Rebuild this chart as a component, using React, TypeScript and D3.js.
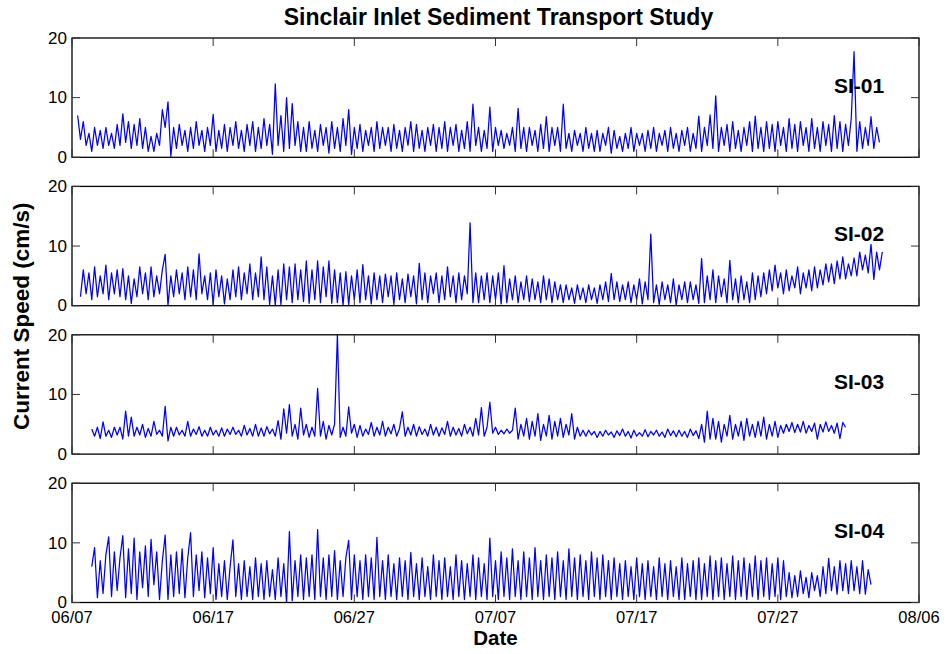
import React from "react";
import * as d3 from "d3";

const TITLE = "Sinclair Inlet Sediment Transport Study";
const X_LABEL = "Date";
const Y_LABEL = "Current Speed (cm/s)";
const STATIONS = ["SI-01", "SI-02", "SI-03", "SI-04"];
const X_TICK_LABELS = ["06/07", "06/17", "06/27", "07/07", "07/17", "07/27", "08/06"];
const Y_TICKS = [0, 10, 20];
const YEAR = "2007";
// first sample of each record, in days after 06/07 00:00, and the sampling step in days
const SERIES_START_DAYS = [0.4, 0.6, 1.4, 1.4];
const SAMPLE_STEP_DAYS = 0.2;

// current speed, cm/s
const SI01 = [
  7, 3, 6, 2, 4,
  1, 5, 2, 4.5, 1.5,
  5, 2, 4, 1.5, 5.5,
  2, 7.3, 2.5, 6, 1.5,
  5.5, 2, 6.5, 1.5, 5,
  1, 3.5, 1, 4, 2,
  8, 5, 9.3, 0.2, 5,
  1.5, 5.5, 2, 4.5, 1,
  5, 1.5, 6, 2, 4.5,
  1, 5, 2, 7.2, 1,
  4.5, 1.5, 5.5, 1, 5,
  2, 6, 1.5, 4.5, 1,
  5.5, 2, 6, 1, 5,
  1.5, 6.5, 2, 5.5, 0.5,
  12.3, 2, 7, 1, 10,
  1.5, 9, 2, 6, 1,
  5, 1, 6, 1.5, 4.5,
  1, 5.5, 2, 5, 0.7,
  6, 1.5, 5, 1, 6.5,
  2, 8, 0.5, 5, 1.5,
  5.5, 1, 4.5, 2, 5,
  1, 6, 1.5, 5, 2,
  5, 1, 5.5, 1.5, 4.5,
  1, 5, 2, 6, 1,
  5.5, 1.5, 4.5, 1, 5,
  2, 5.5, 1, 5, 1.5,
  6, 1, 5, 2, 5.5,
  1, 4.5, 1.5, 6, 1,
  8.9, 2, 5, 1, 4.5,
  1.5, 8.4, 1, 5, 2,
  4.5, 1.5, 4, 2, 5,
  1, 8.2, 1.5, 5, 1,
  5, 2, 4.5, 1, 5.5,
  1.5, 6.8, 1, 5, 2,
  5, 1, 8.9, 1.5, 4,
  1, 4.5, 2, 4, 1,
  5, 1.5, 4, 1, 4.5,
  1, 4, 2, 5, 0.7,
  4.5, 1.5, 3.5, 1, 4,
  1.5, 5, 1, 4, 2,
  4, 1, 4.5, 1.5, 5,
  1, 4, 2, 4.5, 1,
  5, 1.5, 4, 1, 4.5,
  2, 5, 1, 4, 1.5,
  6.9, 1, 5, 2, 7.1,
  1.5, 10.3, 1, 5, 2,
  5.5, 1, 6, 1.5, 4.5,
  1, 5, 2, 6, 1,
  6.9, 1.5, 5, 1, 6,
  1.5, 5.5, 1, 6, 2,
  5, 1, 6.5, 1.5, 5.5,
  1, 6, 2, 5, 1,
  6.5, 1.5, 5, 1, 6,
  2, 5.5, 1, 7, 1.5,
  6, 1, 5.5, 2, 6.5,
  17.7, 1, 6, 1.5, 5,
  2, 6.8, 1.5, 5, 2.5,
];

const SI02 = [
  1.5, 6, 2, 5.5, 1,
  6.5, 1.5, 5, 2, 6.8,
  1, 5.5, 2, 6, 1.5,
  6.2, 1, 5, 0.4, 4.5,
  1.5, 6.5, 2, 5.5, 1,
  6.5, 1.5, 5, 2, 6,
  8.6, 0.1, 5, 1.5, 6,
  2, 5.5, 1, 6.5, 1.5,
  6, 1, 8.7, 2, 5,
  1, 5.5, 0.2, 6, 1.5,
  5, 0.3, 4.5, 1, 6,
  1.5, 6.5, 1, 5.5, 2,
  7, 1, 5.5, 1.5, 8.2,
  1, 6.5, 0.2, 5, 0.1,
  6, 0.2, 7, 1, 6.5,
  0.5, 7, 1, 6, 0.7,
  7.5, 0.4, 6, 1, 7.5,
  0.5, 6.5, 1.5, 7.5, 0.4,
  6, 0.5, 5.5, 0.1, 5.7,
  0.2, 5, 1, 6, 0.5,
  6.9, 1, 5, 0.3, 5.5,
  1, 5, 0.5, 5.3, 1.5,
  5, 0.2, 5.5, 1, 4.5,
  0.5, 5.3, 1.5, 5, 0.3,
  7.1, 1, 5.5, 0.5, 5,
  2, 5.5, 0.5, 5, 1,
  6.5, 1.5, 5, 0.5, 5.5,
  1, 5, 2, 13.9, 0.5,
  5.5, 0.5, 5, 1, 5.5,
  0.5, 5, 1, 5.5, 0.3,
  6.7, 0.5, 4.5, 1, 5,
  0.5, 4, 1, 5, 0.7,
  4.5, 1, 4, 0.5, 5,
  1, 4.5, 0.5, 4, 1,
  3.5, 0.5, 3.5, 1, 3,
  0.4, 3.5, 1, 3, 0.5,
  3.5, 1, 3, 0.4, 3.5,
  1, 4, 0.7, 5.4, 1,
  4, 0.7, 3.5, 1, 4,
  0.5, 3.5, 1, 4.5, 0.3,
  4, 1, 12, 0.5, 3.5,
  0.2, 4, 1, 3.5, 0.5,
  4.5, 0.1, 3.5, 1, 4,
  0.5, 4, 1, 3.5, 0.4,
  7.9, 0.5, 5, 1, 6,
  0.5, 5, 1.5, 4.5, 0.5,
  7.6, 1, 4.5, 0.5, 5,
  1, 4, 0.5, 5.5, 1,
  5, 1.5, 5.5, 2, 6,
  2.5, 6.8, 3, 5.5, 2,
  6, 2.5, 5, 3, 6.5,
  2, 5.5, 3, 6, 2.5,
  6.5, 3, 6, 3.5, 7,
  4, 7, 3.7, 7.5, 4.5,
  8.2, 4.5, 7, 5, 8,
  5, 9, 6, 8.5, 5.5,
  10.3, 4.4, 9, 6, 9,
];

const SI03 = [
  4.2, 3, 4.5, 2.6, 5.4,
  3, 4, 2.8, 4.5, 3.2,
  4.5, 2.5, 7.2, 3, 6.2,
  3, 4.5, 3.2, 5, 2.8,
  4.3, 3, 5.5, 3.3, 4,
  3, 8, 2.2, 4.5, 3,
  4.5, 3.2, 4, 3, 5.5,
  3, 4.2, 3.3, 4.6, 3,
  4, 3, 4.5, 3.2, 4,
  3, 4.4, 3, 4.2, 3.3,
  4.5, 3.3, 4, 3, 4.8,
  3.2, 4.3, 3, 5, 3,
  4.4, 3, 4.6, 3.4, 4.2,
  3, 5.6, 2.5, 7.6, 3.5,
  8.3, 3, 5, 2.5, 7.7,
  3.2, 5, 2.8, 4.5, 3,
  11, 3, 5.5, 2.5, 4.8,
  3.2, 5, 20, 2.8, 4.5,
  3, 7.9, 3.5, 5, 2.8,
  4.8, 3, 4.2, 3.3, 5.3,
  3, 4.5, 3.2, 5.5, 3,
  4.5, 3.4, 5, 3, 4.3,
  7.1, 3, 4.5, 3.2, 5,
  3, 4.6, 3.3, 4.2, 3,
  5, 3.2, 4.5, 3, 4.4,
  3.3, 5.5, 3, 4.5, 3.2,
  4.3, 3, 5, 3.4, 4.5,
  3, 6, 3.2, 7.8, 3,
  4.5, 8.7, 3.5, 4.5, 3.3,
  4, 3.4, 4.2, 3.5, 4,
  7.7, 2.5, 5, 3, 6,
  2.5, 5.5, 3, 6.8, 2.3,
  5, 3, 6.5, 2.5, 5.5,
  3, 6, 2.8, 5, 3.2,
  6.8, 2.5, 4.5, 3, 4,
  3, 4, 3.2, 3.8, 2.8,
  3.8, 3, 4, 3.2, 3.7,
  2.8, 3.9, 3.1, 4.2, 3,
  3.8, 2.7, 4, 3, 3.6,
  3, 4.1, 2.9, 3.8, 3.2,
  4, 3, 3.7, 2.8, 4.2,
  3.1, 3.9, 2.9, 4, 3,
  3.8, 2.8, 4.2, 3.1, 3.9,
  2.6, 5, 2, 7.2, 2.5,
  6, 2.5, 5.5, 2, 5,
  3, 6.5, 2.5, 5, 3,
  5.5, 2.3, 6, 3, 5,
  2.8, 5.5, 3, 6.2, 2.5,
  5, 3, 5.5, 2.8, 4.8,
  3.5, 5, 3.8, 5.3, 3.6,
  5, 3.7, 5.5, 3.5, 4.8,
  3.8, 5.2, 2.5, 5, 3.7,
  5.4, 3.8, 4.8, 3.5, 5.2,
  2.6, 5.3, 4.5,
];

const SI04 = [
  6, 9.2, 0.8, 7, 1.5,
  8, 11, 1, 8.5, 2,
  7.5, 11.2, 0.8, 9, 1.5,
  10.8, 0.5, 8.5, 2.5, 9.5,
  1, 10.6, 3, 8.5, 0.5,
  7, 11.3, 0.5, 8, 1,
  8.5, 1.5, 9, 0.8, 7.5,
  11.7, 1, 8, 2, 8.5,
  0.8, 7.5, 1.5, 9.2, 0.5,
  6.5, 1, 7, 0.5, 6,
  10.5, 1, 6.5, 0.5, 7,
  1, 6, 0.5, 7.5, 1,
  6.5, 0.5, 7, 1, 5.5,
  0.5, 7.5, 1, 6.5, 0,
  11.9, 0.3, 7, 1, 8,
  0.5, 7.5, 1, 8, 0.5,
  12.2, 1, 7.5, 0.5, 8,
  1, 8.7, 0.5, 7, 1,
  7.5, 10.4, 0.5, 8, 1,
  7, 0.5, 8, 1, 7.5,
  0.5, 10.9, 1, 7, 0.5,
  8, 1, 6.5, 0.5, 7.5,
  1, 7, 0.5, 8.4, 1,
  6.5, 0.5, 7.5, 1, 6,
  0.5, 8, 1, 7, 0.5,
  7.5, 1, 6, 0.5, 8,
  1, 7, 0.5, 6.5, 1,
  8, 0.5, 7.5, 1, 6.5,
  0.5, 10.8, 1, 7, 0.5,
  8.5, 1, 7.5, 0.5, 9,
  1, 7, 0.5, 8.5, 1,
  7.5, 0.5, 9.2, 1, 7,
  0.5, 8, 1, 7.5, 0.5,
  8.5, 1, 7, 0.5, 9,
  1, 7.5, 0.5, 8, 1,
  7, 0.5, 8.5, 1, 7.5,
  0.5, 8, 1, 7, 0.5,
  7.5, 1, 6.5, 0.5, 7,
  1, 6, 0.5, 7.5, 1,
  6.5, 0.5, 7, 1, 6,
  0.5, 7.5, 1, 6.5, 0.5,
  7, 1, 6, 0.5, 7.5,
  0.5, 6.5, 1, 7, 0.5,
  7.5, 0.5, 6.5, 1, 7.8,
  0.5, 7, 1, 7.5, 0.5,
  6.5, 1, 7.8, 0.5, 7,
  1, 7.5, 0.5, 6.5, 1,
  7.8, 0.5, 7, 1, 7.5,
  0.5, 6.5, 1, 7.5, 0.5,
  7, 1, 5, 0.8, 4.5,
  1, 5.3, 1.5, 4.2, 0.8,
  5, 2, 4.5, 1, 6,
  1.5, 7.4, 2, 6, 1.4,
  7, 2, 6.5, 1.5, 7,
  2, 6, 1.5, 7, 1.4,
  5.5, 3,
];

const SERIES = [SI01, SI02, SI03, SI04];

const W = 946;
const H = 654;
const LEFT = 72;
const RIGHT = 919;
const FIRST_TOP = 38;
const PANEL_GAP = 148.4;
const PANEL_H = 119.3;
const TICK = 8;
const FONT = "'Liberation Sans', Arial, Helvetica, sans-serif";

const parseDate = d3.timeParse("%m/%d/%Y");
const tickDates = X_TICK_LABELS.map((l) => parseDate(`${l}/${YEAR}`) as Date);
const DAY_MS = 86400000;

export default function App() {
  const x = d3
    .scaleTime()
    .domain([tickDates[0], tickDates[tickDates.length - 1]])
    .range([LEFT, RIGHT]);

  const panels = SERIES.map((values, p) => {
    const top = FIRST_TOP + p * PANEL_GAP;
    const bottom = top + PANEL_H;
    const y = d3.scaleLinear().domain([0, 20]).range([bottom, top]);
    const start = tickDates[0].getTime() + SERIES_START_DAYS[p] * DAY_MS;
    const line = d3
      .line<number>()
      .x((_, i) => x(new Date(start + i * SAMPLE_STEP_DAYS * DAY_MS)))
      .y((v) => y(v));
    return { top, bottom, y, path: line(values) || "", p };
  });

  return (
    <svg
      width={W}
      height={H}
      style={{ position: "absolute", left: 0, top: 0, background: "#fff" }}
      fontFamily={FONT}
    >
      <rect x={0} y={0} width={W} height={H} fill="#fff" />
      <text x={(LEFT + RIGHT) / 2 + 3} y={25} textAnchor="middle" fontSize={23} fontWeight="bold">
        {TITLE}
      </text>
      {panels.map(({ top, bottom, y, path, p }) => (
        <g key={p}>
          <path d={path} fill="none" stroke="#0000ff" strokeWidth={1.25} strokeLinejoin="round" />
          <rect
            x={LEFT}
            y={top}
            width={RIGHT - LEFT}
            height={bottom - top}
            fill="none"
            stroke="#000"
            strokeWidth={1.3}
          />
          {tickDates.map((d, i) => (
            <g key={i} stroke="#333" strokeWidth={1}>
              <line x1={x(d)} x2={x(d)} y1={top} y2={top + TICK} />
              <line x1={x(d)} x2={x(d)} y1={bottom} y2={bottom - TICK} />
            </g>
          ))}
          {Y_TICKS.map((t) => (
            <g key={t}>
              <line x1={LEFT} x2={LEFT + TICK} y1={y(t)} y2={y(t)} stroke="#333" />
              <line x1={RIGHT} x2={RIGHT - TICK} y1={y(t)} y2={y(t)} stroke="#333" />
              <text x={67} y={y(t)} dy="0.34em" textAnchor="end" fontSize={17}>
                {t}
              </text>
            </g>
          ))}
          <text x={834} y={top + 54.5} fontSize={21} fontWeight="bold">
            {STATIONS[p]}
          </text>
          {p === SERIES.length - 1 &&
            tickDates.map((d, i) => (
              <text key={i} x={x(d)} y={622.5} textAnchor="middle" fontSize={16.5}>
                {X_TICK_LABELS[i]}
              </text>
            ))}
        </g>
      ))}
      <text x={(LEFT + RIGHT) / 2} y={645} textAnchor="middle" fontSize={20.5} fontWeight="bold">
        {X_LABEL}
      </text>
      <text
        transform={`translate(29, ${(FIRST_TOP + FIRST_TOP + 3 * PANEL_GAP + PANEL_H) / 2 - 4}) rotate(-90)`}
        textAnchor="middle"
        fontSize={22.5}
        fontWeight="bold"
      >
        {Y_LABEL}
      </text>
    </svg>
  );
}
